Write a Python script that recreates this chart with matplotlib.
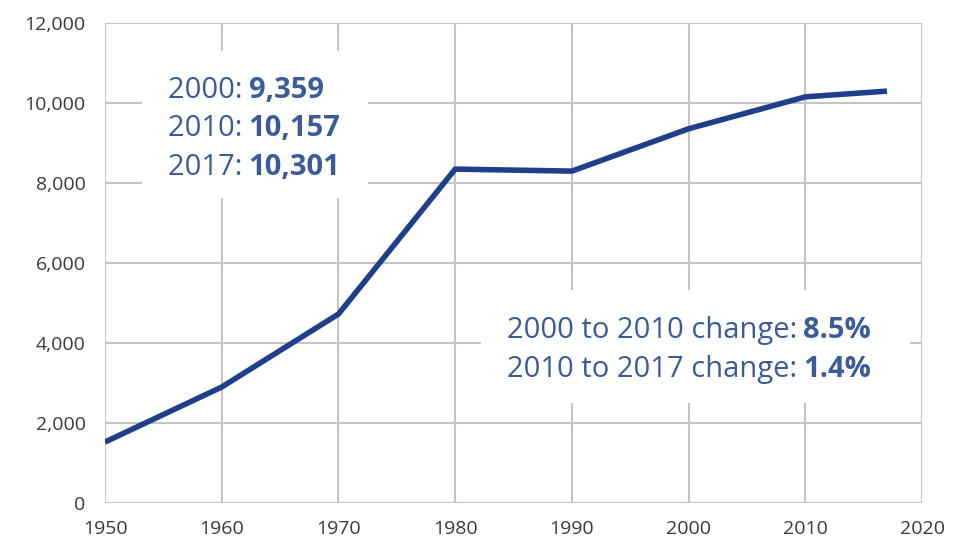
import numpy as np
import matplotlib.pyplot as plt
from matplotlib.patches import Rectangle
from matplotlib.ticker import FuncFormatter

# datos
years = [1950, 1960, 1970, 1980, 1990, 2000, 2010, 2017]
pop = [1525, 2900, 4725, 8350, 8300, 9359, 10157, 10301]

box1_plain = ['2000: ', '2010: ', '2017: ']
box1_bold = ['9,359', '10,157', '10,301']
box2_plain = ['2000 to 2010 change: ', '2010 to 2017 change: ']
box2_bold = ['8.5%', '1.4%']

line_col = '#1f3f8a'
txt_col = '#3b5c99'
grid_col = '#c4c4c6'

plt.rcParams['font.family'] = ['Open Sans', 'DejaVu Sans']

fig = plt.figure(figsize=(9.68, 5.44), dpi=100)
ax = fig.add_axes([0.1085, 0.0754, 0.844, 0.882])

ax.plot(years, pop, color=line_col, lw=4, solid_capstyle='butt', zorder=5)

ax.set_xlim(1950, 2020)
ax.set_ylim(0, 12000)
ax.set_xticks(np.arange(1950, 2021, 10))
ax.set_yticks(np.arange(0, 12001, 2000))
ax.yaxis.set_major_formatter(FuncFormatter(lambda v, p: f'{int(v):,}'))
ax.grid(True, color=grid_col, lw=1.5, zorder=0)
ax.set_axisbelow(True)
for s in ax.spines.values():
    s.set_visible(False)
ax.tick_params(length=0, labelsize=14, labelcolor='#3a3a3a', pad=12)
ax.tick_params(axis='y', pad=14)

# cajas blancas sobre la grilla
ax.add_patch(Rectangle((0.045, 0.635), 0.277, 0.307, transform=ax.transAxes,
                       facecolor='white', edgecolor='none', zorder=2))
ax.add_patch(Rectangle((0.460, 0.208), 0.525, 0.236, transform=ax.transAxes,
                       facecolor='white', edgecolor='none', zorder=2))

fs = 21
# texto caja 1
y0 = 0.844
for i in range(3):
    t = ax.text(0.077, y0 - i * 0.080, box1_plain[i], transform=ax.transAxes,
                fontsize=fs, color=txt_col, va='baseline', zorder=6)
    ax.annotate(box1_bold[i], xy=(1, 0), xycoords=t, fontsize=fs,
                xytext=(-1, 0), textcoords='offset points',
                fontweight='bold', color=txt_col, va='bottom', zorder=6)

# texto caja 2
y0 = 0.344
for i in range(2):
    t = ax.text(0.492, y0 - i * 0.081, box2_plain[i], transform=ax.transAxes,
                fontsize=fs, color=txt_col, va='baseline', zorder=6)
    ax.annotate(box2_bold[i], xy=(1, 0), xycoords=t, fontsize=fs,
                xytext=(-1, 0), textcoords='offset points',
                fontweight='bold', color=txt_col, va='bottom', zorder=6)

fig.savefig('out.png', dpi=100, facecolor='white')
